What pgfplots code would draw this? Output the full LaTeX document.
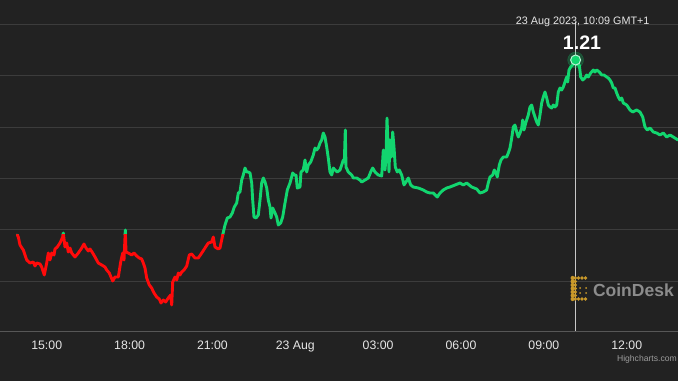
\documentclass[border=0pt]{standalone}
\usepackage{pgfplots}
\usepackage{pgfplotstable}
\pgfplotsset{compat=1.18}
\usepackage{fontspec}
\setmainfont{Liberation Sans}
\definecolor{bg}{HTML}{222222}
\definecolor{gridc}{HTML}{3C3C3C}
\definecolor{axisc}{HTML}{575757}
\definecolor{tickc}{HTML}{E6E6E6}
\definecolor{upc}{HTML}{12D66F}
\definecolor{downc}{HTML}{FF0A0A}
\definecolor{goldc}{HTML}{C9992A}
\definecolor{wmc}{HTML}{8C8C8C}

\pgfplotstableread{
h y
13.935 1.035
13.972 1.033
14.033 1.025
14.153 1.020
14.276 1.010
14.395 1.007
14.515 1.008
14.576 1.004
14.638 1.007
14.757 1.006
14.819 1.003
14.913 0.995
15.000 1.007
15.058 1.017
15.119 1.010
15.181 1.017
15.264 1.015
15.300 1.021
15.384 1.023
15.481 1.027
15.579 1.033
15.601 1.037
15.662 1.023
15.724 1.027
15.782 1.018
15.843 1.022
15.905 1.017
16.024 1.013
16.144 1.017
16.267 1.022
16.350 1.026
16.423 1.022
16.506 1.019
16.568 1.021
16.665 1.017
16.749 1.013
16.868 1.007
16.991 1.005
17.111 1.003
17.172 1.000
17.266 0.997
17.389 0.989
17.473 0.993
17.592 0.993
17.679 1.008
17.751 1.017
17.799 1.010
17.846 1.040
17.871 1.018
17.954 1.017
18.077 1.015
18.161 1.017
18.258 1.014
18.353 1.012
18.439 1.011
18.497 1.007
18.559 1.002
18.620 0.992
18.715 0.985
18.801 0.982
18.885 0.977
18.982 0.973
19.077 0.971
19.138 0.967
19.222 0.970
19.308 0.968
19.402 0.972
19.489 0.975
19.526 0.965
19.562 0.988
19.645 0.993
19.707 0.990
19.765 0.997
19.826 0.995
19.888 0.998
19.971 1.000
20.069 1.004
20.163 1.015
20.250 1.016
20.369 1.012
20.489 1.012
20.612 1.017
20.731 1.022
20.851 1.027
20.974 1.028
21.032 1.033
21.093 1.023
21.213 1.021
21.274 1.022
21.372 1.035
21.455 1.045
21.539 1.052
21.636 1.053
21.720 1.057
21.792 1.063
21.879 1.067
21.937 1.077
21.998 1.078
22.060 1.090
22.118 1.095
22.179 1.102
22.241 1.098
22.299 1.098
22.361 1.097
22.422 1.087
22.458 1.070
22.505 1.053
22.578 1.052
22.661 1.055
22.723 1.070
22.784 1.087
22.842 1.092
22.904 1.088
22.965 1.082
23.023 1.070
23.085 1.063
23.121 1.052
23.182 1.062
23.266 1.057
23.327 1.053
23.385 1.045
23.472 1.047
23.544 1.053
23.628 1.067
23.711 1.080
23.809 1.087
23.907 1.097
23.965 1.095
24.026 1.095
24.073 1.082
24.171 1.083
24.207 1.098
24.290 1.100
24.352 1.110
24.413 1.098
24.471 1.105
24.558 1.108
24.653 1.115
24.714 1.122
24.775 1.120
24.833 1.122
24.895 1.127
24.956 1.130
25.014 1.137
25.076 1.133
25.137 1.123
25.195 1.112
25.257 1.098
25.319 1.095
25.377 1.102
25.438 1.100
25.521 1.098
25.619 1.100
25.681 1.105
25.739 1.110
25.775 1.108
25.811 1.140
25.836 1.103
25.920 1.098
26.043 1.095
26.101 1.092
26.224 1.092
26.343 1.090
26.405 1.088
26.524 1.090
26.644 1.092
26.731 1.098
26.803 1.102
26.886 1.098
27.006 1.095
27.129 1.094
27.187 1.120
27.248 1.100
27.284 1.112
27.321 1.152
27.357 1.127
27.393 1.098
27.429 1.130
27.476 1.113
27.527 1.138
27.574 1.123
27.621 1.103
27.694 1.098
27.766 1.100
27.853 1.095
27.936 1.085
28.009 1.088
28.092 1.092
28.179 1.085
28.273 1.083
28.454 1.082
28.635 1.080
28.758 1.078
28.878 1.077
28.997 1.077
29.142 1.073
29.240 1.077
29.359 1.080
29.482 1.082
29.602 1.083
29.783 1.085
29.964 1.087
30.083 1.085
30.206 1.087
30.387 1.083
30.568 1.081
30.688 1.077
30.808 1.078
30.930 1.080
30.988 1.087
31.050 1.093
31.148 1.095
31.206 1.100
31.267 1.097
31.314 1.093
31.387 1.105
31.448 1.110
31.532 1.113
31.655 1.113
31.713 1.117
31.774 1.122
31.836 1.132
31.894 1.143
31.955 1.145
32.017 1.138
32.075 1.133
32.136 1.137
32.198 1.142
32.234 1.150
32.281 1.140
32.353 1.148
32.437 1.155
32.498 1.163
32.560 1.165
32.618 1.158
32.679 1.153
32.741 1.148
32.799 1.145
32.860 1.155
32.922 1.167
32.980 1.173
33.041 1.178
33.103 1.172
33.161 1.165
33.222 1.163
33.284 1.162
33.342 1.165
33.403 1.163
33.465 1.165
33.523 1.178
33.584 1.182
33.646 1.180
33.704 1.183
33.765 1.188
33.827 1.193
33.863 1.188
33.910 1.200
33.972 1.203
34.044 1.205
34.110 1.208
34.150 1.210
34.211 1.205
34.283 1.205
34.334 1.193
34.406 1.190
34.490 1.192
34.551 1.195
34.609 1.193
34.696 1.197
34.790 1.200
34.852 1.198
34.913 1.200
35.008 1.198
35.095 1.195
35.177 1.195
35.275 1.193
35.333 1.192
35.395 1.190
35.456 1.187
35.514 1.182
35.576 1.182
35.637 1.177
35.695 1.173
35.757 1.170
35.818 1.172
35.876 1.167
35.999 1.165
36.119 1.160
36.216 1.158
36.361 1.160
36.481 1.158
36.579 1.153
36.662 1.143
36.745 1.140
36.843 1.142
36.963 1.138
37.086 1.137
37.205 1.135
37.325 1.137
37.447 1.133
37.567 1.135
37.687 1.133
37.857 1.130
}\pricedata

\begin{document}
\begin{tikzpicture}
\useasboundingbox (0,-50pt) rectangle (678pt,331pt);
\clip (0,-50pt) rectangle (678pt,331pt);
\fill[bg] (0,-50pt) rectangle (678pt,331pt);
\begin{axis}[
  at={(0,0)}, anchor=south west,
  scale only axis, width=678pt, height=331pt,
  xmin=13.309, xmax=37.857,
  ymin=0.939, ymax=1.270,
  axis line style={draw=none},
  major tick length=0pt,
  ytick={0.989,1.0405,1.092,1.143,1.195,1.246},
  yticklabels={},
  ymajorgrids,
  grid style={color=gridc, line width=0.8pt},
  extra y ticks={0.939},
  extra y tick labels={},
  extra y tick style={grid style={color=axisc, line width=1pt}},
  xtick={15,18,21,24,27,30,33,36},
  xticklabels={15:00,18:00,21:00,23 Aug,03:00,06:00,09:00,12:00},
  xticklabel style={font=\fontsize{12.3}{14}\selectfont, text=tickc, anchor=base, yshift=-18.5pt},
  clip=false,
]
\draw[color=white!75!bg, line width=0.9pt] (axis cs:34.15,1.248) -- (axis cs:34.15,0.939);
\begin{scope}
\clip (axis cs:13.309,1.036) rectangle (axis cs:37.857,1.270);
\addplot[color=upc, line width=2.9pt, line join=round, line cap=round, mark=none] table[x=h, y=y] {\pricedata};
\end{scope}
\begin{scope}
\clip (axis cs:13.309,0.939) rectangle (axis cs:37.857,1.036);
\addplot[color=downc, line width=2.9pt, line join=round, line cap=round, mark=none] table[x=h, y=y] {\pricedata};
\end{scope}
\addplot[only marks, mark=*, mark size=8pt, color=upc, opacity=0.25] coordinates {(34.15,1.210)};
\addplot[only marks, mark=*, mark size=5pt, fill=upc, draw=white!70!upc, line width=1pt] coordinates {(34.15,1.210)};
\node[text=tickc, font=\fontsize{10.8}{12}\selectfont] at (axis cs:34.406,1.2483) {23 Aug 2023, 10:09 GMT+1};
\node[text=white, font=\bfseries\fontsize{19.5}{22}\selectfont] at (axis cs:34.38,1.2275) {1.21};
\end{axis}
% CoinDesk watermark
\node[text=wmc, font=\bfseries\fontsize{17.5}{20}\selectfont] at (633.4pt,41pt) {CoinDesk};
\foreach \yy in {53,49.5,46,42.5,39,35.5,32} {
  \fill[goldc] (572.6pt,\yy pt) circle (2.1pt);
  \fill[goldc] (575.2pt,\yy pt) circle (1.9pt);
}
\foreach \xx in {578.5,582,585.5} {
  \fill[goldc] (\xx pt,53pt) circle (1.9pt);
  \fill[goldc] (\xx pt,32pt) circle (1.9pt);
}
\foreach \xx in {580,586} {
  \foreach \yy in {43,38} {
    \fill[goldc] (\xx pt,\yy pt) circle (1pt);
  }
}
\node[anchor=base east, inner sep=0pt, text=white!55!bg, font=\fontsize{8.6}{10}\selectfont] at (677pt,-30pt) {Highcharts.com};
\end{tikzpicture}
\end{document}
